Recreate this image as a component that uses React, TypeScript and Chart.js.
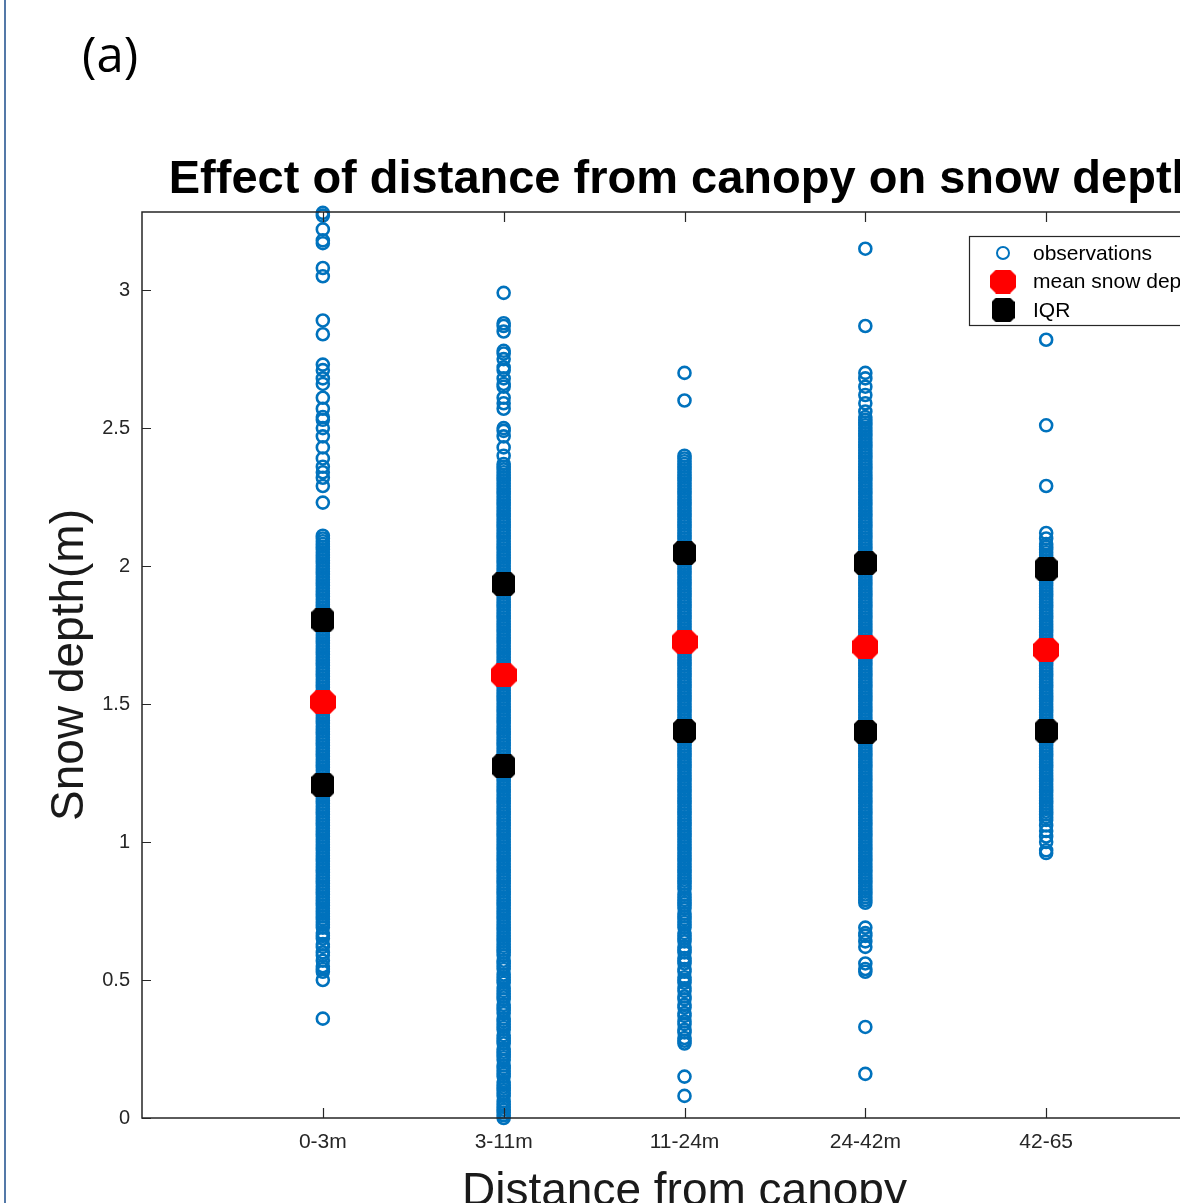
import React, { useEffect, useRef } from "react";
import { Chart, registerables } from "chart.js";

Chart.register(...registerables);

// ---------- data ----------
const categories = ["0-3m", "3-11m", "11-24m", "24-42m", "42-65"];

// snow depth observations, in centimetres
const obs0to3 = [
  328, 327, 322, 318, 317, 308, 305, 289, 284, 273, 271, 268, 266, 261, 257, 254, 253, 250, 247, 243, 239, 236, 234, 232, 229, 223,
  211, 210, 209, 208, 207, 206, 205, 204, 203, 202, 201, 200, 199, 198, 197, 196, 195, 194, 193, 192, 191, 190, 189, 188, 187, 186,
  185, 184, 183, 182, 181, 180, 179, 178, 177, 176, 175, 174, 173, 172, 171, 170, 169, 168, 167, 166, 165, 164, 163, 162, 161, 160,
  159, 158, 157, 156, 155, 154, 153, 152, 151, 150, 149, 148, 147, 146, 145, 144, 143, 142, 141, 140, 139, 138, 137, 136, 135, 134,
  133, 132, 131, 130, 129, 128, 127, 126, 125, 124, 123, 122, 121, 120, 119, 118, 117, 116, 115, 114, 113, 112, 111, 110, 109, 108,
  107, 106, 105, 104, 103, 102, 101, 100, 99, 98, 97, 96, 95, 94, 93, 92, 91, 90, 89, 88, 87, 86, 85, 84, 83, 82, 81, 80, 79, 78, 77,
  76, 75, 74, 73, 72, 71, 70, 69, 67, 66, 65, 63, 62, 60, 59, 57, 55, 54, 53, 50, 36,
];
const obs3to11 = [
  299, 288, 287, 285, 278, 277, 275, 272, 271, 268, 266, 265, 261, 259, 257, 250, 249, 247, 243, 240,
  237, 236, 235, 234, 233, 232, 231, 230, 229, 228, 227, 226, 225, 224, 223, 222, 221, 220, 219, 218, 217, 216, 215, 214, 213, 212,
  211, 210, 209, 208, 207, 206, 205, 204, 203, 202, 201, 200, 199, 198, 197, 196, 195, 194, 193, 192, 191, 190, 189, 188, 187, 186,
  185, 184, 183, 182, 181, 180, 179, 178, 177, 176, 175, 174, 173, 172, 171, 170, 169, 168, 167, 166, 165, 164, 163, 162, 161, 160,
  159, 158, 157, 156, 155, 154, 153, 152, 151, 150, 149, 148, 147, 146, 145, 144, 143, 142, 141, 140, 139, 138, 137, 136, 135, 134,
  133, 132, 131, 130, 129, 128, 127, 126, 125, 124, 123, 122, 121, 120, 119, 118, 117, 116, 115, 114, 113, 112, 111, 110, 109, 108,
  107, 106, 105, 104, 103, 102, 101, 100, 99, 98, 97, 96, 95, 94, 93, 92, 91, 90, 89, 88, 87, 86, 85, 84, 83, 82, 81, 80, 79, 78, 77,
  76, 75, 74, 73, 72, 71, 70, 69, 68, 67, 66, 65, 64, 63,
  62, 61, 60, 59, 57, 56, 55, 54, 52, 51, 50, 49, 47, 46, 45, 44, 43, 41, 40, 39, 38, 36, 35, 34, 33, 32, 30, 29, 28, 27, 25, 24, 23,
  22, 21, 19, 18, 17, 16, 15, 13, 12, 11, 10, 9, 8, 6, 5, 4, 3, 2, 1, 0,
];
const obs11to24 = [
  270, 260, 240, 239, 238,
  237, 236, 235, 234, 233, 232, 231, 230, 229, 228, 227, 226, 225, 224, 223, 222, 221, 220, 219, 218, 217, 216, 215, 214, 213, 212,
  211, 210, 209, 208, 207, 206, 205, 204, 203, 202, 201, 200, 199, 198, 197, 196, 195, 194, 193, 192, 191, 190, 189, 188, 187, 186,
  185, 184, 183, 182, 181, 180, 179, 178, 177, 176, 175, 174, 173, 172, 171, 170, 169, 168, 167, 166, 165, 164, 163, 162, 161, 160,
  159, 158, 157, 156, 155, 154, 153, 152, 151, 150, 149, 148, 147, 146, 145, 144, 143, 142, 141, 140, 139, 138, 137, 136, 135, 134,
  133, 132, 131, 130, 129, 128, 127, 126, 125, 124, 123, 122, 121, 120, 119, 118, 117, 116, 115, 114, 113, 112, 111, 110, 109, 108,
  107, 106, 105, 104, 103, 102, 101, 100, 99, 98, 97, 96, 95, 94, 93, 92, 91, 90, 89,
  88, 87, 86, 85, 84, 83, 81, 80, 79, 78, 77, 76, 74, 73, 72, 71, 70, 69, 67, 66, 65, 64, 62, 61, 60, 58, 57, 56, 54, 53, 51, 50,
  49, 47, 46, 44, 43, 41, 40, 38, 37, 35, 34, 32, 31, 29, 28, 27, 15, 8,
];
const obs24to42 = [
  315, 287, 270, 268, 265, 262, 259, 256,
  254, 253, 252, 251, 250, 249, 248, 247, 246, 245, 244, 243, 242, 241, 240, 239, 238,
  237, 236, 235, 234, 233, 232, 231, 230, 229, 228, 227, 226, 225, 224, 223, 222, 221, 220, 219, 218, 217, 216, 215, 214, 213, 212,
  211, 210, 209, 208, 207, 206, 205, 204, 203, 202, 201, 200, 199, 198, 197, 196, 195, 194, 193, 192, 191, 190, 189, 188, 187, 186,
  185, 184, 183, 182, 181, 180, 179, 178, 177, 176, 175, 174, 173, 172, 171, 170, 169, 168, 167, 166, 165, 164, 163, 162, 161, 160,
  159, 158, 157, 156, 155, 154, 153, 152, 151, 150, 149, 148, 147, 146, 145, 144, 143, 142, 141, 140, 139, 138, 137, 136, 135, 134,
  133, 132, 131, 130, 129, 128, 127, 126, 125, 124, 123, 122, 121, 120, 119, 118, 117, 116, 115, 114, 113, 112, 111, 110, 109, 108,
  107, 106, 105, 104, 103, 102, 101, 100, 99, 98, 97, 96, 95, 94, 93, 92, 91, 90, 89, 88, 87, 86, 85, 84, 83, 82, 81, 80, 79, 78,
  69, 67, 66, 64, 62, 56, 54, 53, 33, 16,
];
const obs42to65 = [
  282, 251, 229, 212, 210,
  208, 207, 206, 205, 204, 203, 202, 201, 200, 199, 198, 197, 196, 195, 194, 193, 192, 191, 190, 189, 188, 187, 186,
  185, 184, 183, 182, 181, 180, 179, 178, 177, 176, 175, 174, 173, 172, 171, 170, 169, 168, 167, 166, 165, 164, 163, 162, 161, 160,
  159, 158, 157, 156, 155, 154, 153, 152, 151, 150, 149, 148, 147, 146, 145, 144, 143, 142, 141, 140, 139, 138, 137, 136, 135, 134,
  133, 132, 131, 130, 129, 128, 127, 126, 125, 124, 123, 122, 121, 120, 119, 118, 117, 116, 115, 114, 113, 112, 111, 110, 109, 108,
  106, 104, 102, 100, 97, 96,
];
const observationGroups = [obs0to3, obs3to11, obs11to24, obs24to42, obs42to65];

const meanDepth = [1.507, 1.605, 1.725, 1.707, 1.696];
const iqrLow = [1.207, 1.275, 1.402, 1.399, 1.402];
const iqrHigh = [1.804, 1.935, 2.047, 2.011, 1.989];

const yTickValues = [0, 0.5, 1, 1.5, 2, 2.5, 3];
const titleText = "Effect of distance from canopy on snow depth";
const xTitleText = "Distance from canopy";
const yTitleText = "Snow depth(m)";
const panelLabel = "(a)";
const seriesLabels = ["observations", "mean snow depth", "IQR"];

// ---------- styling ----------
const FONT = '"Liberation Sans", Arial, Helvetica, sans-serif';
const BLUE = "#0072BD";
const AXIS = "#262626";
const CANVAS_W = 1300;
const CANVAS_H = 1203;

function makeOctagon(w: number, h: number, c: number, color: string) {
  const cv = document.createElement("canvas");
  cv.width = w;
  cv.height = h;
  const g = cv.getContext("2d") as CanvasRenderingContext2D;
  g.fillStyle = color;
  g.beginPath();
  g.moveTo(c, 0);
  g.lineTo(w - c, 0);
  g.lineTo(w, c);
  g.lineTo(w, h - c);
  g.lineTo(w - c, h);
  g.lineTo(c, h);
  g.lineTo(0, h - c);
  g.lineTo(0, c);
  g.closePath();
  g.fill();
  return cv;
}

const matlabAxes = {
  id: "matlabAxes",
  afterDraw(chart: any) {
    const { ctx, chartArea: a, scales } = chart;
    const x = scales.x;
    const y = scales.y;
    ctx.save();

    // panel label
    ctx.fillStyle = "#000";
    ctx.font = `49px "Open Sans", "Liberation Sans", sans-serif`;
    ctx.textAlign = "left";
    ctx.textBaseline = "alphabetic";
    ctx.fillText(panelLabel, 82, 72);

    // axes box
    ctx.strokeStyle = AXIS;
    ctx.lineWidth = 1.5;
    ctx.strokeRect(a.left, a.top, a.right - a.left, a.bottom - a.top);

    // inward ticks
    ctx.lineWidth = 1.2;
    ctx.beginPath();
    yTickValues.forEach((v) => {
      const py = Math.round(y.getPixelForValue(v)) + 0.5;
      ctx.moveTo(a.left, py);
      ctx.lineTo(a.left + 9, py);
      ctx.moveTo(a.right, py);
      ctx.lineTo(a.right - 9, py);
    });
    categories.forEach((_, i) => {
      const px = Math.round(x.getPixelForValue(i + 1)) + 0.5;
      ctx.moveTo(px, a.bottom);
      ctx.lineTo(px, a.bottom - 10);
      ctx.moveTo(px, a.top);
      ctx.lineTo(px, a.top + 10);
    });
    ctx.stroke();

    const cx = (a.left + a.right) / 2;
    // title
    ctx.fillStyle = "#000";
    ctx.font = `bold 47px ${FONT}`;
    ctx.textAlign = "center";
    ctx.fillText(titleText, cx, 193);

    // x title
    ctx.fillStyle = "#1a1a1a";
    ctx.font = `46px ${FONT}`;
    ctx.fillText(xTitleText, cx, 1205);

    // y title
    ctx.save();
    ctx.translate(83, (a.top + a.bottom) / 2);
    ctx.rotate(-Math.PI / 2);
    ctx.fillText(yTitleText, 0, 0);
    ctx.restore();

    // legend
    const lx = 969;
    const ly = 236;
    const lw = 250;
    const lh = 89;
    ctx.fillStyle = "#fff";
    ctx.fillRect(lx, ly, lw, lh);
    ctx.strokeStyle = AXIS;
    ctx.lineWidth = 1.2;
    ctx.strokeRect(lx + 0.5, ly + 0.5, lw, lh);
    const rows = [253, 281.5, 310];
    const ds = chart.data.datasets;
    // observation ring
    ctx.strokeStyle = BLUE;
    ctx.lineWidth = 2;
    ctx.beginPath();
    ctx.arc(1003, rows[0], 6, 0, Math.PI * 2);
    ctx.stroke();
    [1, 2].forEach((k) => {
      const img = ds[k].pointStyle;
      ctx.drawImage(img, 1003 - img.width / 2, rows[k] - img.height / 2);
    });
    ctx.fillStyle = "#000";
    ctx.font = `21px ${FONT}`;
    ctx.textAlign = "left";
    ctx.textBaseline = "middle";
    ds.forEach((d: any, k: number) => {
      ctx.fillText(d.label, 1033, rows[k] + 1);
    });

    ctx.restore();
  },
};

export default function App() {
  const ref = useRef<HTMLCanvasElement | null>(null);

  useEffect(() => {
    if (!ref.current) return;
    const obsPoints: { x: number; y: number }[] = [];
    observationGroups.forEach((g, i) => {
      g.forEach((v) => obsPoints.push({ x: i + 1, y: v / 100 }));
    });
    const meanPoints = meanDepth.map((v, i) => ({ x: i + 1, y: v }));
    const iqrPoints: { x: number; y: number }[] = [];
    categories.forEach((_, i) => {
      iqrPoints.push({ x: i + 1, y: iqrHigh[i] });
      iqrPoints.push({ x: i + 1, y: iqrLow[i] });
    });
    const redMarker = makeOctagon(26, 24, 6, "#ff0000");
    const blackMarker = makeOctagon(23, 24, 4, "#000000");

    const chart = new Chart(ref.current, {
      type: "scatter",
      data: {
        datasets: [
          {
            label: seriesLabels[0],
            data: obsPoints,
            pointStyle: "circle",
            pointRadius: 6,
            pointBorderWidth: 2.6,
            borderColor: BLUE,
            backgroundColor: "rgba(0,0,0,0)",
            order: 3,
            clip: false as any,
          },
          {
            label: seriesLabels[1],
            data: meanPoints,
            pointStyle: redMarker as any,
            pointRadius: 12,
            borderColor: "#ff0000",
            backgroundColor: "#ff0000",
            order: 2,
            clip: false as any,
          },
          {
            label: seriesLabels[2],
            data: iqrPoints,
            pointStyle: blackMarker as any,
            pointRadius: 12,
            borderColor: "#000",
            backgroundColor: "#000",
            order: 1,
            clip: false as any,
          },
        ],
      },
      options: {
        responsive: false,
        animation: false,
        devicePixelRatio: 1,
        events: [],
        layout: { padding: { top: 212, right: CANVAS_W - 1227, bottom: 0, left: 0 } },
        plugins: {
          legend: { display: false },
          title: { display: false },
          tooltip: { enabled: false },
        },
        scales: {
          x: {
            type: "linear",
            min: 0,
            max: 6,
            grid: { display: false, drawTicks: false },
            border: { display: false },
            afterFit: (s: any) => {
              s.height = CANVAS_H - 1118;
            },
            afterBuildTicks: (s: any) => {
              s.ticks = categories.map((_, i) => ({ value: i + 1 }));
            },
            ticks: {
              autoSkip: false,
              maxRotation: 0,
              minRotation: 0,
              padding: 12,
              color: AXIS,
              font: { family: FONT, size: 21 },
              callback: (v: any) => categories[Math.round(Number(v)) - 1] ?? "",
            },
          },
          y: {
            type: "linear",
            min: 0,
            max: 3.283,
            grid: { display: false, drawTicks: false },
            border: { display: false },
            afterFit: (s: any) => {
              s.width = 142;
            },
            afterBuildTicks: (s: any) => {
              s.ticks = yTickValues.map((v) => ({ value: v }));
            },
            ticks: {
              padding: 12,
              color: AXIS,
              font: { family: FONT, size: 20 },
              callback: (v: any) => String(v),
            },
          },
        },
      },
      plugins: [matlabAxes],
    });
    return () => chart.destroy();
  }, []);

  return (
    <div
      style={{
        position: "fixed",
        left: 0,
        top: 0,
        width: 1180,
        height: 1203,
        overflow: "hidden",
        background: "#fff",
      }}
    >
      <canvas
        ref={ref}
        width={CANVAS_W}
        height={CANVAS_H}
        style={{ position: "absolute", left: 0, top: 0, width: CANVAS_W, height: CANVAS_H }}
      />
      <div
        style={{
          position: "absolute",
          left: 4,
          top: 0,
          width: 2,
          height: 1203,
          background: "#5479a8",
        }}
      />
    </div>
  );
}
